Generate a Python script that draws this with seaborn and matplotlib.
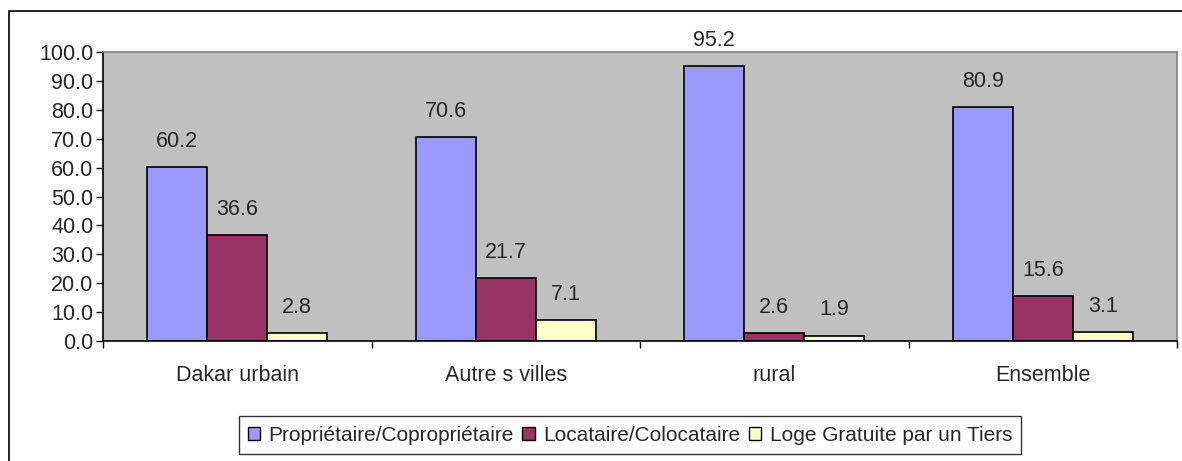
import matplotlib
matplotlib.use('Agg')
import matplotlib.pyplot as plt
import seaborn as sns
import pandas as pd
import numpy as np
from matplotlib.patches import Rectangle

# Données
categories = ['Dakar urbain', 'Autre s villes', 'rural', 'Ensemble']
series = ['Propriétaire/Copropriétaire', 'Locataire/Colocataire', 'Loge Gratuite par un Tiers']
proprietaire = [60.2, 70.6, 95.2, 80.9]
locataire = [36.6, 21.7, 2.6, 15.6]
loge_gratuite = [2.8, 7.1, 1.9, 3.1]
couleurs = ['#9999FF', '#993366', '#FFFFCC']

df = pd.DataFrame({
    'categorie': categories * 3,
    'statut': [series[0]] * 4 + [series[1]] * 4 + [series[2]] * 4,
    'valeur': proprietaire + locataire + loge_gratuite,
})

sns.set_style('white')
plt.rcParams['font.family'] = ['Liberation Sans', 'DejaVu Sans']

fig = plt.figure(figsize=(11.82, 4.61), dpi=100)
ax = fig.add_axes([103 / 1182, 1 - 341 / 461, (1177 - 103) / 1182, (341 - 52) / 461])

sns.barplot(data=df, x='categorie', y='valeur', hue='statut', order=categories,
            hue_order=series, palette=couleurs, width=0.67, edgecolor='black',
            linewidth=1.2, saturation=1, ax=ax, legend=False)

ax.set_facecolor('#C0C0C0')
ax.set_ylim(0, 100)
ax.set_xlim(-0.5, 3.5)
ax.set_yticks(np.arange(0, 101, 10))
ax.set_yticklabels([f'{v:.1f}' for v in np.arange(0, 101, 10)], fontsize=15.5)
ax.set_xticklabels(categories, fontsize=15.5)
ax.set_xlabel('')
ax.set_ylabel('')
ax.tick_params(axis='y', direction='out', length=5, width=1, color='black', pad=2, left=True)
ax.tick_params(axis='x', which='major', length=0, pad=17)
ax.set_xticks(np.arange(-0.5, 3.6, 1), minor=True)
ax.tick_params(axis='x', which='minor', direction='out', length=5, width=1, color='black', bottom=True)

for s in ['left', 'bottom']:
    ax.spines[s].set_color('black')
    ax.spines[s].set_linewidth(1.2)
for s in ['top', 'right']:
    ax.spines[s].set_color('#808080')
    ax.spines[s].set_linewidth(1.2)

# Étiquettes de valeurs
for cont in ax.containers:
    ax.bar_label(cont, fmt='%.1f', padding=11, fontsize=15.5)

# Légende
handles = [Rectangle((0, 0), 1, 1, facecolor=c, edgecolor='black', linewidth=1) for c in couleurs]
leg = fig.legend(handles, series, loc='center', bbox_to_anchor=(630 / 1182, 1 - 435 / 461),
                 ncol=3, fontsize=15, frameon=True, fancybox=False, handlelength=0.6,
                 handleheight=0.6, handletextpad=0.4, columnspacing=0.4, borderpad=0.45)
leg.get_frame().set_edgecolor('black')
leg.get_frame().set_linewidth(1)

# Cadre extérieur
fig.patches.append(Rectangle((9 / 1182, -0.1), 1.1, 1 - 11 / 461 + 0.1, transform=fig.transFigure,
                             fill=False, edgecolor='black', linewidth=1.2))

fig.savefig('out.png', dpi=100)
